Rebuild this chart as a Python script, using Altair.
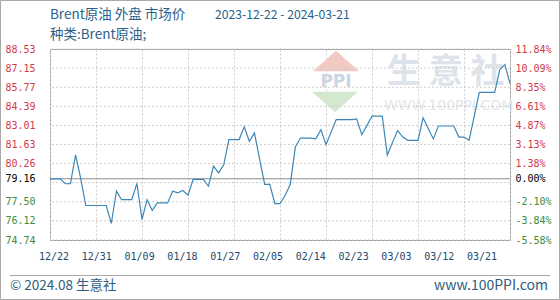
import json
import altair as alt
import pandas as pd

# ---------------- data ----------------
title_main = "Brent原油 外盘 市场价"
title_dates = "2023-12-22 - 2024-03-21"
subtitle_text = "种类:Brent原油;"
footer_left = "© 2024.08 生意社"
footer_right = "www.100PPI.com"

dates = pd.date_range("2023-12-22", "2024-03-21", freq="D").strftime("%Y-%m-%d").tolist()
prices = [
    79.16, 79.16, 79.16, 78.80, 78.80, 80.89, 79.20, 77.23, 77.23, 77.23,
    77.23, 77.23, 75.93, 78.28, 77.65, 77.65, 77.65, 78.83, 76.22, 77.65,
    76.87, 77.42, 77.42, 77.42, 78.26, 78.15, 78.31, 77.97, 79.11, 79.11,
    79.11, 78.62, 80.07, 79.59, 80.19, 81.99, 81.99, 81.99, 82.91, 81.87,
    82.47, 80.60, 78.75, 78.75, 77.36, 77.36, 77.95, 78.75, 81.45, 82.10,
    82.10, 82.10, 82.04, 82.71, 81.63, 82.53, 83.43, 83.43, 83.43, 83.43,
    83.48, 82.35, 83.00, 83.69, 83.69, 83.69, 80.87, 81.77, 82.64, 82.19,
    81.94, 81.94, 81.94, 83.56, 82.79, 82.04, 82.97, 82.97, 82.97, 82.97,
    82.17, 82.17, 81.94, 83.68, 85.40, 85.40, 85.40, 85.40, 87.04, 87.40,
    86.03,
]
x_labels = ["12/22", "12/31", "01/09", "01/18", "01/27", "02/05",
            "02/14", "02/23", "03/03", "03/12", "03/21"]
y_label_values = [88.53, 87.15, 85.77, 84.39, 83.01, 81.63, 80.26, 79.16, 77.50, 76.12, 74.74]
pct_labels = ["11.84%", "10.09%", "8.35%", "6.61%", "4.87%", "3.13%", "1.38%",
              "0.00%", "-2.10%", "-3.84%", "-5.58%"]
grid_values = [88.53, 87.15, 85.77, 84.39, 83.01, 81.63, 80.26, 78.88, 77.50, 76.12, 74.74]
base_price = 79.16

# ---------------- styles ----------------
RED = "#d03a4a"
GREEN = "#3c8c3c"
LINE = "#3d87b8"
TITLE_C = "#2a5f8a"
TICK_C = "#1e4a6e"
GRID_C = "#cdcdcd"
FONT = "Noto Sans CJK SC"
MONO = "DejaVu Sans Mono"

df = pd.DataFrame({"day": list(range(len(prices))), "date": dates, "price": prices})
grid_df = pd.DataFrame({"v": grid_values})
base_df = pd.DataFrame({"v": [base_price]})
xlab_df = pd.DataFrame({"i": list(range(len(x_labels))), "lab": x_labels})

yscale = alt.Scale(domain=[min(y_label_values), max(y_label_values)], nice=False, zero=False)
color_expr = (f"datum.value > {base_price} + 0.001 ? '{RED}' : "
              f"(datum.value < {base_price} - 0.001 ? '{GREEN}' : '#000000')")

left_axis = alt.Axis(values=y_label_values, labelExpr="format(datum.value, '.2f')",
                     labelColor={"expr": color_expr}, labelFont=MONO, labelFontSize=10,
                     labelPadding=15, ticks=False, domain=False, grid=False, title=None,
                     labelOverlap=False, labelFlush=False, orient="left")
right_axis = alt.Axis(values=y_label_values,
                      labelExpr=f"{json.dumps(pct_labels)}[indexof({json.dumps(y_label_values)}, datum.value)]",
                      labelColor={"expr": color_expr}, labelFont=MONO, labelFontSize=10,
                      labelPadding=5, ticks=False, domain=False, grid=False, title=None,
                      labelOverlap=False, labelFlush=False, orient="right")

grid = alt.Chart(grid_df).mark_rule(color=GRID_C, strokeDash=[2, 2], strokeWidth=1).encode(
    y=alt.Y("v:Q", scale=yscale, axis=right_axis)
)
baseline = alt.Chart(base_df).mark_rule(color="#8a8a8a", strokeWidth=1).encode(
    y=alt.Y("v:Q", scale=yscale, axis=None)
)
line = alt.Chart(df).mark_line(color=LINE, strokeWidth=1.2).encode(
    x=alt.X("day:Q", scale=alt.Scale(domain=[0, len(prices) - 1], nice=False, zero=False),
            axis=alt.Axis(values=list(range(0, len(prices), 9)), grid=True, gridColor=GRID_C,
                          gridDash=[2, 2], labels=False, ticks=False, domain=False, title=None)),
    y=alt.Y("price:Q", scale=yscale, axis=left_axis),
)
xlabels = alt.Chart(xlab_df).mark_text(font=MONO, fontSize=10, color=TICK_C, baseline="middle").encode(
    x=alt.X("i:Q", scale=alt.Scale(domain=[-0.0935, 10.654], nice=False, zero=False), axis=None),
    y=alt.value(208),
    text="lab:N",
)

def txt(s, x, y, **kw):
    return alt.Chart(pd.DataFrame({"t": [s]})).mark_text(**kw).encode(
        x=alt.value(x), y=alt.value(y), text="t:N")

title1 = txt(title_main, 0, -34, font=FONT, fontSize=13.5, color=TITLE_C, align="left", baseline="middle")
title1b = txt(title_dates, 165, -34, font=FONT, fontSize=12.2, color=TITLE_C, align="left", baseline="middle")
title2 = txt(subtitle_text, 0, -14, font=FONT, fontSize=13.5, color=TITLE_C, align="left", baseline="middle")
foot1 = txt(footer_left, -40, 237, font=FONT, fontSize=13.5, color="#2f5d80", align="left", baseline="middle")
foot2 = txt(footer_right, 498, 237, font=FONT, fontSize=14, color="#2f5d80", align="right", baseline="middle")

wm1 = txt("生 意 社", 337, 24, font=FONT, fontSize=34, fontWeight="bold", color="#dde3ea",
          align="left", baseline="middle")
wm2 = txt("WWW.100PPI.COM", 334, 57, font="DejaVu Sans", fontSize=14, color="#e3e7ec",
          align="left", baseline="middle")
wm3 = txt("PPI", 286, 33, font="DejaVu Sans", fontSize=17, fontWeight="bold", color="#ccd5e4",
          align="center", baseline="middle")
one = pd.DataFrame({"k": [0]})
roof = alt.Chart(one).mark_point(shape="M-1,0.45L0,-0.45L1,0.45Z", filled=True, fill="#f3c9c4",
                                 opacity=1, size=2116, strokeWidth=0).encode(
    x=alt.value(286), y=alt.value(12))
tri = alt.Chart(one).mark_point(shape="M-1,-0.45L1,-0.45L0,0.45Z", filled=True, fill="#d3e8cf",
                                opacity=1, size=2116, strokeWidth=0).encode(
    x=alt.value(285), y=alt.value(53))

frame = alt.Chart(one).mark_rect(fill=None, stroke="#a8a8a8", strokeWidth=1).encode(
    x=alt.value(-49.5), x2=alt.value(509.5), y=alt.value(-48.5), y2=alt.value(250.5))
sep = alt.Chart(one).mark_rule(color="#a8a8a8", strokeWidth=1).encode(
    x=alt.value(-40), x2=alt.value(500), y=alt.value(226.5))

chart = alt.layer(
    wm1, wm2, roof, tri, wm3, grid, baseline, line, xlabels,
    title1, title1b, title2, foot1, foot2, frame, sep,
).resolve_scale(x="independent").resolve_axis(y="independent").properties(
    width=460, height=191,
    padding={"left": 50, "top": 49, "right": 50, "bottom": 60},
    autosize="none",
    background="white",
).configure_view(stroke="#a0a0a0", strokeWidth=1)

chart.save("out.html", embed_options={"renderer": "svg", "actions": False})
